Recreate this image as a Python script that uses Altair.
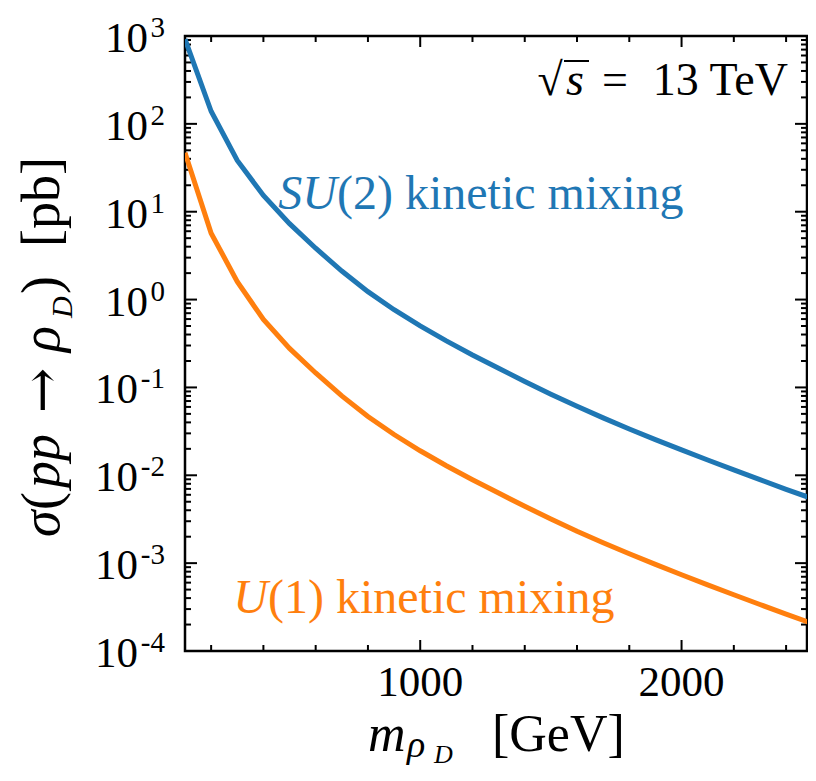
import altair as alt
import pandas as pd

# ---------------- data ----------------
mass = [100, 200, 300, 400, 500, 600, 700, 800, 900, 1000, 1100, 1200, 1300,
        1400, 1500, 1600, 1700, 1800, 1900, 2000, 2100, 2200, 2300, 2400, 2500]
sigma_su2 = [920, 139, 38.4, 15.3, 7.31, 3.84, 2.11, 1.23, 0.767, 0.501,
             0.339, 0.234, 0.165, 0.117, 0.0838, 0.0610, 0.0450, 0.0337,
             0.0255, 0.01945, 0.01493, 0.01151, 0.00891, 0.00693, 0.00542]
sigma_u1 = [47, 5.70, 1.60, 0.594, 0.278, 0.146, 0.0802, 0.0467, 0.0291,
            0.0190, 0.01285, 0.00889, 0.00627, 0.00444, 0.00318, 0.00231,
            0.00171, 0.00128, 0.000968, 0.000738, 0.000566, 0.000437,
            0.000338, 0.000263, 0.000206]
models = ["SU(2)", "U(1)"]
colors = ["#1f77b4", "#ff7f0e"]

x_major = [1000, 2000]
x_minor = [200, 400, 600, 800, 1200, 1400, 1600, 1800, 2200, 2400]
y_exponents = [-4, -3, -2, -1, 0, 1, 2, 3]
y_major = [10.0 ** e for e in y_exponents]
y_minor = [k * 10.0 ** e for e in range(-4, 3) for k in range(2, 10)]

SERIF = "Liberation Serif"
W, H = 622, 615

df = pd.DataFrame({
    "m": mass * 2,
    "sigma": sigma_su2 + sigma_u1,
    "model": [models[0]] * len(mass) + [models[1]] * len(mass),
})

xs = alt.Scale(domain=[100, 2480], nice=False, zero=False)
ys = alt.Scale(type="log", domain=[1e-4, 1e3], nice=False)

lines = alt.Chart(df).mark_line(strokeWidth=5, clip=True).encode(
    x=alt.X("m:Q", scale=xs, axis=None),
    y=alt.Y("sigma:Q", scale=ys, axis=None),
    color=alt.Color("model:N", scale=alt.Scale(domain=models, range=colors),
                    legend=None),
)


def xticks(vals, length, top):
    d = pd.DataFrame({"m": vals})
    if top:
        yy, yy2 = alt.value(0), alt.value(length)
    else:
        yy, yy2 = alt.value(H), alt.value(H - length)
    return alt.Chart(d).mark_rule(color="black", strokeWidth=2).encode(
        x=alt.X("m:Q", scale=xs, axis=None), y=yy, y2=yy2)


def yticks(vals, length, right):
    d = pd.DataFrame({"v": vals})
    if right:
        xx, xx2 = alt.value(W), alt.value(W - length)
    else:
        xx, xx2 = alt.value(0), alt.value(length)
    return alt.Chart(d).mark_rule(color="black", strokeWidth=2).encode(
        y=alt.Y("v:Q", scale=ys, axis=None), x=xx, x2=xx2)


ticks = [
    xticks(x_major, 11, False), xticks(x_minor, 6, False),
    xticks(x_major, 11, True), xticks(x_minor, 6, True),
    yticks(y_major, 12, False), yticks(y_minor, 6, False),
    yticks(y_major, 12, True), yticks(y_minor, 6, True),
]

# x tick labels
xlab = alt.Chart(pd.DataFrame({"m": x_major})).transform_calculate(
    t="toString(datum.m)").mark_text(
    align="center", baseline="alphabetic", font=SERIF, fontSize=43,
    color="black").encode(
    x=alt.X("m:Q", scale=xs, axis=None), y=alt.value(H + 45), text="t:N")

# y tick labels 10^e built from two texts
ylab = alt.Chart(pd.DataFrame({"e": y_exponents})).transform_calculate(
    v="pow(10, datum.e)", ex="toString(datum.e)")
tens_pos = ylab.transform_filter("datum.e >= 0").mark_text(
    text="10", align="right", baseline="alphabetic", font=SERIF, fontSize=43,
    dy=16, color="black").encode(
    x=alt.value(-37), y=alt.Y("v:Q", scale=ys, axis=None))
tens_neg = ylab.transform_filter("datum.e < 0").mark_text(
    text="10", align="right", baseline="alphabetic", font=SERIF, fontSize=43,
    dy=16, color="black").encode(
    x=alt.value(-47), y=alt.Y("v:Q", scale=ys, axis=None))
exps = ylab.mark_text(
    align="right", baseline="alphabetic", font=SERIF, fontSize=29, dy=1,
    color="black").encode(
    x=alt.value(-20), y=alt.Y("v:Q", scale=ys, axis=None), text="ex:N")


def label(text, x, y, size, italic=False, align="left", angle=None,
          color="black", font=SERIF):
    kw = dict(text=text, align=align, baseline="alphabetic", font=font,
              fontSize=size, color=color)
    if italic:
        kw["fontStyle"] = "italic"
    if angle is not None:
        kw["angle"] = angle
    return alt.Chart(pd.DataFrame({"a": [0]})).mark_text(**kw).encode(
        x=alt.value(x), y=alt.value(y))


texts = [
    # x-axis title
    label("m", 183, 715, 52, italic=True),
    label("ρ", 222, 721, 38, italic=True),
    label("D", 249, 727, 26, italic=True),
    label("[GeV]", 307, 715, 52),
    # y-axis title (rotated)
    label("σ", -126, 501, 54, italic=True, angle=270),
    label("(", -126, 474, 54, angle=270),
    label("pp", -126, 452, 54, italic=True, angle=270),
    label("→", -125, 377, 54, angle=270, font="DejaVu Serif"),
    label("ρ", -126, 316, 54, italic=True, angle=270),
    label("D", -113, 282, 30, italic=True, angle=270),
    label(")", -126, 258, 54, angle=270),
    label("[pb]", -126, 211, 54, angle=270),
    # curve labels
    label("SU", 152, 173, 48, italic=True, align="right", color=colors[0]),
    label("(2) kinetic mixing", 152, 173, 48, color=colors[0]),
    label("U", 83, 577, 48, italic=True, align="right", color=colors[1]),
    label("(1) kinetic mixing", 83, 577, 48, color=colors[1]),
    # sqrt(s) = 13 TeV
    label("√", 365, 59, 46, align="center"),
    label("s", 390, 59, 46, italic=True, align="center"),
    label("=", 430, 59, 46, align="center"),
    label("13 TeV", 603, 59, 46, align="right"),
]

vinculum = alt.Chart(pd.DataFrame({"a": [0]})).mark_rule(
    color="black", strokeWidth=2).encode(
    x=alt.value(379), x2=alt.value(404), y=alt.value(25))

chart = alt.layer(*ticks, lines, xlab, tens_pos, tens_neg, exps, *texts,
                  vinculum).properties(
    width=W, height=H,
    padding={"left": 177, "top": 28, "right": 1, "bottom": 118},
    autosize=alt.AutoSizeParams(type="none"),
    background="white",
).configure_view(stroke="black", strokeWidth=2.5)

chart.save("out.html", embed_options={"renderer": "svg", "actions": False})
